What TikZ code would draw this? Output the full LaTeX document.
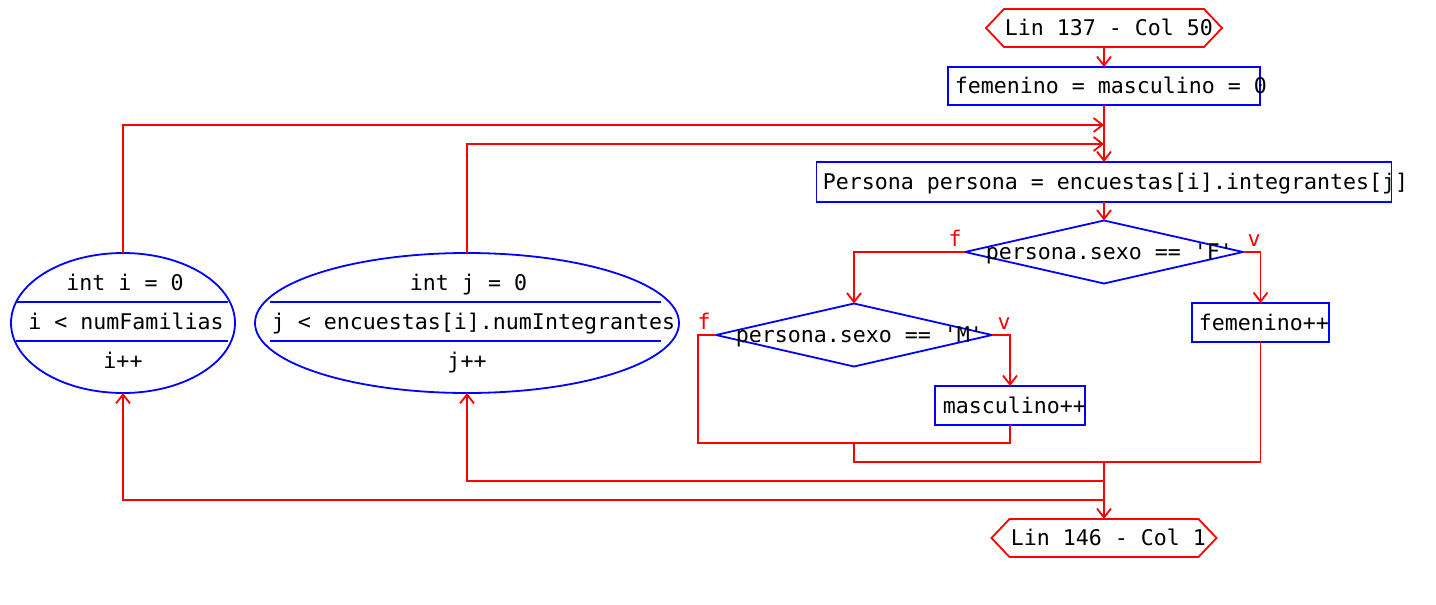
\documentclass[tikz,border=0pt]{standalone}
\usepackage{fontspec}
\setmainfont{DejaVu Sans Mono}
\usetikzlibrary{arrows.meta,calc,shapes.geometric}
\begin{document}
\begin{tikzpicture}[x=0.5pt,y=-0.5pt,
  font=\fontsize{10.8}{13}\selectfont,
  line width=0.9pt,
  shp/.style={inner sep=0pt, outer sep=0pt},
  box/.style={shp, draw=blue, rectangle},
  dia/.style={shp, draw=blue, diamond},
  ell/.style={shp, draw=blue, ellipse},
  hexn/.style={shp, rectangle},
  hexline/.style={draw=red},
  txt/.style={inner sep=0pt, text height=7.87pt, text depth=0pt, anchor=west},
  txtc/.style={inner sep=0pt, text height=7.87pt, text depth=0pt, anchor=center},
  lbl/.style={inner sep=0pt, anchor=base, text=red},
  conn/.style={draw=red},
  arr/.style={draw=red, -{Straight Barb[length=4.5pt,width=7pt]}},
  sep/.style={draw=blue}
]
\useasboundingbox (0,0) rectangle (1436,605);

% start / end terminals
\node[hexn, minimum width=118pt, minimum height=19pt] (start) at (1104,28) {};
\draw[hexline] (start.west) -- ([xshift=9pt]start.north west) -- ([xshift=-9pt]start.north east) -- (start.east) -- ([xshift=-9pt]start.south east) -- ([xshift=9pt]start.south west) -- cycle;
\node[txt] (tstart) at (1004,28) {Lin 137 - Col 50};

\node[hexn, minimum width=112.5pt, minimum height=19pt] (end) at (1104,538) {};
\draw[hexline] (end.west) -- ([xshift=9pt]end.north west) -- ([xshift=-9pt]end.north east) -- (end.east) -- ([xshift=-9pt]end.south east) -- ([xshift=9pt]end.south west) -- cycle;
\node[txt] (tend) at (1010,538) {Lin 146 - Col 1};

% boxes
\node[box, minimum width=156pt, minimum height=19pt] (b1) at (1104,86) {};
\node[txt] (tb1) at (954,86) {femenino = masculino = 0};

\node[box, minimum width=287.5pt, minimum height=20pt] (b2) at (1104,182) {};
\node[txt] (tb2) at (822,182) {Persona persona = encuestas[i].integrantes[j]};

\node[dia, minimum width=139pt, minimum height=31.5pt] (d1) at (1104,252) {};
\node[txt] (td1) at (985,252) {persona.sexo == \textquotesingle F\textquotesingle};

\node[dia, minimum width=138pt, minimum height=31.5pt] (d2) at (854,335) {};
\node[txt] (td2) at (735,335) {persona.sexo == \textquotesingle M\textquotesingle};

\node[box, minimum width=75pt, minimum height=19.5pt] (m) at (1010,405.5) {};
\node[txt] (tm) at (942,405.5) {masculino++};

\node[box, minimum width=68.5pt, minimum height=19.5pt] (fem) at (1260.5,322.5) {};
\node[txt] (tfem) at (1198,322.5) {femenino++};

% loop ellipses
\node[ell, minimum width=112pt, minimum height=70pt] (e1) at (123,323) {};
\node[txtc] (e1a) at (125,283) {int i = 0};
\node[txtc] (e1b) at (126,322) {i < numFamilias};
\node[txtc] (e1c) at (123,361) {i++};
\draw[sep] ($(e1.center)+(-107,-21)$) -- ($(e1.center)+(105,-21)$);
\draw[sep] ($(e1.center)+(-107,18)$) -- ($(e1.center)+(105,18)$);

\node[ell, minimum width=212pt, minimum height=70pt] (e2) at (467,323) {};
\node[txtc] (e2a) at (468.5,283) {int j = 0};
\node[txtc] (e2b) at (473.5,322) {j < encuestas[i].numIntegrantes};
\node[txtc] (e2c) at (467,361) {j++};
\draw[sep] ($(e2.center)+(-197,-21)$) -- ($(e2.center)+(194,-21)$);
\draw[sep] ($(e2.center)+(-197,18)$) -- ($(e2.center)+(194,18)$);

% branch labels
\node[lbl] (f1) at (955,246) {f};
\node[lbl] (v1) at (1254,246) {v};
\node[lbl] (f2) at (704,329) {f};
\node[lbl] (v2) at (1004,329) {v};

% junction coordinates
\coordinate (c1) at (1104,125);
\coordinate (c2) at (1104,144);
\coordinate (k1) at (698,443);
\coordinate (k2) at (854,462);
\coordinate (k3) at (854,443);
\coordinate (k4) at (1104,462);
\coordinate (k5) at (1104,481);
\coordinate (k6) at (1104,500);

% connectors
\draw[arr] (start.south) -- (b1.north);
\draw[arr] (b1.south) -- (b2.north);
\draw[arr] (e1.north) |- (c1);
\draw[arr] (e2.north) |- (c2);
\draw[arr] (b2.south) -- (d1.north);
\draw[arr] (d1.west) -| (d2.north);
\draw[arr] (d1.east) -| (fem.north);
\draw[arr] (d2.east) -| (m.north);
\draw[conn] (d2.west) -| (k1) -| (m.south);
\draw[conn] (fem.south) |- (k2) -- (k3);
\draw[arr] (k4) -- (end.north);
\draw[arr] (k5) -| (e2.south);
\draw[arr] (k6) -| (e1.south);
\end{tikzpicture}
\end{document}
